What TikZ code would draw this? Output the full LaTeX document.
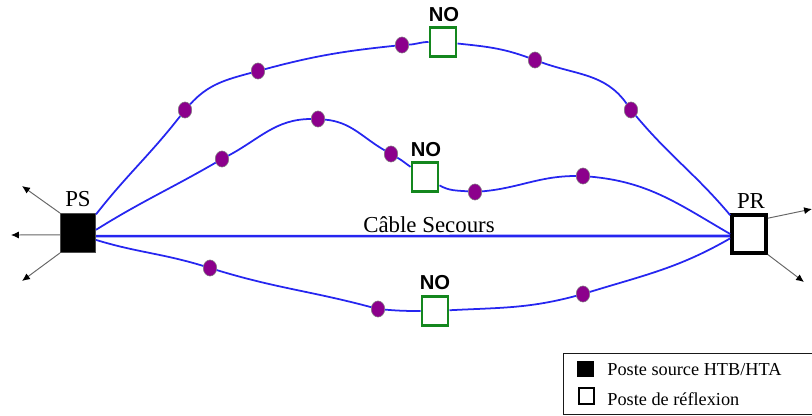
\documentclass[tikz,border=0pt]{standalone}
\usepackage{fontspec}
\setmainfont{Liberation Serif}
\newfontfamily\nofont{Liberation Sans}
\usepackage{tikz}
\usetikzlibrary{shapes.geometric}
\usetikzlibrary{arrows.meta}

\definecolor{cableblue}{RGB}{38,38,240}
\definecolor{dotpurple}{RGB}{140,0,140}
\definecolor{nogreen}{RGB}{20,135,30}

\tikzset{
    cable/.style={draw=cableblue, line width=1pt},
    cableS/.style={draw=cableblue, line width=1.5pt},
    exit/.style={draw=black!60, line width=0.55pt, -{Latex[black,length=4.5pt,width=4pt]}},
    dot/.style={ellipse, draw=black!50, line width=0.3pt, fill=dotpurple, inner sep=0pt, minimum width=7.7pt, minimum height=9.2pt},
    nobox/.style={rectangle, draw=nogreen, line width=1.5pt, fill=white, inner sep=0pt, minimum width=15pt, minimum height=16.2pt},
    lab/.style={font=\fontsize{13}{13}\selectfont, inner sep=0pt},
    nolab/.style={font=\nofont\bfseries\fontsize{11.5}{11.5}\selectfont, inner sep=0pt},
    leglab/.style={font=\fontsize{10.4}{11}\selectfont, inner sep=0pt, anchor=west}
}

\begin{document}
\begin{tikzpicture}[x=0.02cm,y=-0.02cm]
    \useasboundingbox (0,0) rectangle (812,416);

    \node[fill=black, draw=black!70, line width=0.3pt, inner sep=0pt, minimum width=20.2pt, minimum height=22.4pt] (PS) at (78,233) {};
    \node[draw=black, fill=white, line width=1.9pt, inner sep=0pt, minimum width=19.5pt, minimum height=21.5pt] (PR) at (749,234) {};
    \node[lab] (PSlab) at (78,199) {PS};
    \node[lab] (PRlab) at (751,201) {PR};
    \node[lab] (SEC) at (429,225) {Câble Secours};

    % postes NO
    \node[nobox] (NOa) at (443,42) {};
    \node[nobox] (NOb) at (425,177) {};
    \node[nobox] (NOc) at (435,311) {};
    \node[nolab] (NOalab) at (444,15) {NO};
    \node[nolab] (NOblab) at (426,150) {NO};
    \node[nolab] (NOclab) at (435,283) {NO};

    % cable du haut
    \node[dot] (a1) at (185,110) {};
    \node[dot] (a2) at (258,71) {};
    \node[dot] (a3) at (402,45) {};
    \node[dot] (a4) at (535,60) {};
    \node[dot] (a5) at (631,110) {};

    % cable du milieu
    \node[dot] (b1) at (222,159) {};
    \node[dot] (b2) at (318,119) {};
    \node[dot] (b3) at (391,154) {};
    \node[dot] (b4) at (475,192) {};
    \node[dot] (b5) at (583,176) {};

    % cable du bas
    \node[dot] (c1) at (210,268) {};
    \node[dot] (c2) at (378,309) {};
    \node[dot] (c3) at (583,294) {};

    \draw[cable] (PS.46) to[out=52,in=232] (a1);
    \draw[cable] (a1) to[out=48,in=195] (a2);
    \draw[cable] (a2) to[out=15,in=186] (a3);
    \draw[cable] (a3) to[out=3,in=180] (NOa);
    \draw[cable] (NOa) to[out=-6,in=160] (a4);
    \draw[cable] (a4) to[out=-20,in=125] (a5);
    \draw[cable] (a5) to[out=-50,in=130] (PR.135);

    \draw[cable] (PS.10) to[out=32,in=210] (b1);
    \draw[cable] (b1) to[out=28,in=180] (b2);
    \draw[cable] (b2) to[out=-5,in=150] (b3);
    \draw[cable] (b3) to[out=-30,in=145] (NOb);
    \draw[cable] (NOb) to[out=-30,in=175] (b4);
    \draw[cable] (b4) to[out=5,in=180] (b5);
    \draw[cable] (b5) to[out=-5,in=150] (PR.180);

    \draw[cable] (PS.-21) to[out=-17,in=163] (c1);
    \draw[cable] (c1) to[out=-17,in=165] (c2);
    \draw[cable] (c2) to[out=-5,in=180] (NOc);
    \draw[cable] (NOc) to[out=3,in=195] (c3);
    \draw[cable] (c3) to[out=17,in=210] (PR.-167);

    \draw[cableS] (PS.-10) -- (PR.-174);

    % departs
    \coordinate (e1) at (22,186);
    \coordinate (e2) at (11,235);
    \coordinate (e3) at (22,281);
    \coordinate (e4) at (812,209);
    \coordinate (e5) at (804,282);
    \draw[exit] (PS.north west) -- (e1);
    \draw[exit] (PS.-174) -- (e2);
    \draw[exit] (PS.south west) -- (e3);
    \draw[exit] (PR.40) -- (e4);
    \draw[exit] (PR.south east) -- (e5);

    % legende
    \node[draw=black!90, line width=0.8pt, inner sep=0pt, minimum width=141.5pt, minimum height=35pt] (LEG) at (688,384) {};
    \node[fill=black, inner sep=0pt, minimum width=9.6pt, minimum height=9.2pt] (LEGa) at (585.5,369) {};
    \node[draw=black, fill=white, line width=1.2pt, inner sep=0pt, minimum width=8.6pt, minimum height=9.2pt] (LEGb) at (586.5,396) {};
    \node[leglab] (LEGalab) at (607,370) {Poste source HTB/HTA};
    \node[leglab] (LEGblab) at (607,399) {Poste de réflexion};
\end{tikzpicture}
\end{document}
